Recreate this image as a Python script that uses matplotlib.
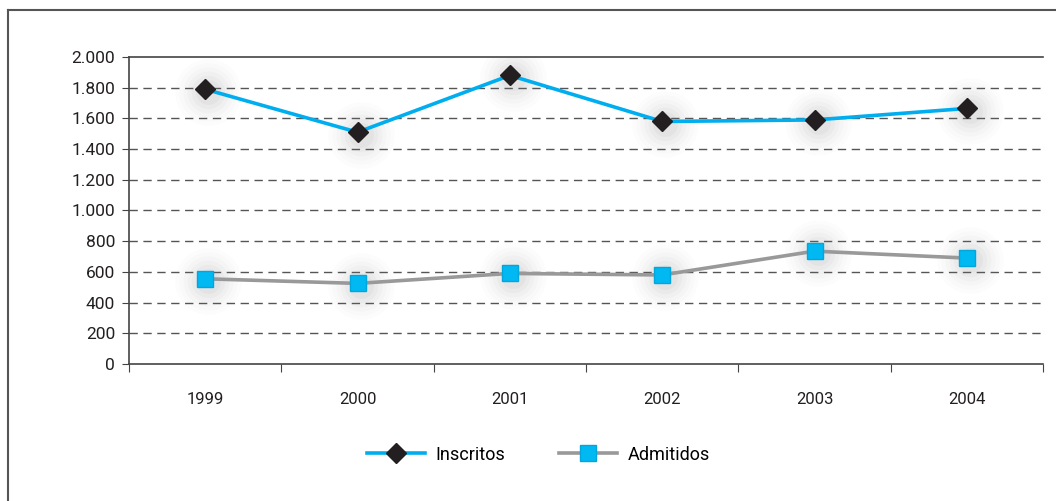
import matplotlib
matplotlib.use('Agg')
import matplotlib.pyplot as plt
from matplotlib.lines import Line2D
from matplotlib.ticker import FuncFormatter

years = ['1999', '2000', '2001', '2002', '2003', '2004']
inscritos = [1790, 1510, 1880, 1580, 1590, 1665]
admitidos = [555, 525, 590, 580, 735, 690]

plt.rcParams['font.family'] = ['Roboto', 'DejaVu Sans']

fig = plt.figure(figsize=(10.56, 5.01), dpi=100)
ax = fig.add_axes([0.1222, 0.2735, 0.8655, 0.6127])

x = [i + 0.5 for i in range(len(years))]

# sombras suaves detras de los marcadores (un poco desplazadas)
for s, a in [(48, 0.02), (42, 0.025), (36, 0.03), (30, 0.04), (24, 0.05), (18, 0.06)]:
    ax.plot([v + 0.02 for v in x], [v - 15 for v in inscritos], 'o', ms=s,
            color='#808080', alpha=a, mec='none', zorder=1)
    ax.plot([v + 0.02 for v in x], [v - 15 for v in admitidos], 'o', ms=s,
            color='#808080', alpha=a, mec='none', zorder=1)

ax.plot(x, inscritos, color='#00aeef', lw=2.6, marker='D', ms=10,
        mfc='#231f20', mec='#231f20', label='Inscritos', zorder=3)
ax.plot(x, admitidos, color='#999999', lw=2.6, marker='s', ms=11,
        mfc='#00b9f2', mec='#00a6dc', label='Admitidos', zorder=3)

ax.set_xlim(0, 6)
ax.set_ylim(0, 2000)
ax.set_yticks(range(0, 2001, 200))
ax.yaxis.set_major_formatter(FuncFormatter(lambda v, p: f'{int(v):,}'.replace(',', '.')))
ax.set_xticks(range(0, 7))
ax.set_xticklabels([])
ax.set_xticks(x, minor=True)
ax.set_xticklabels(years, minor=True)
ax.tick_params(axis='x', which='minor', length=0, pad=20, labelsize=12, colors='#231f20')
ax.tick_params(axis='x', which='major', length=6, direction='out', color='#444444')
ax.tick_params(axis='y', length=5, direction='out', color='#444444', labelsize=12.5,
               labelcolor='#231f20', pad=5)

for v in range(200, 2000, 200):
    ax.axhline(v, color='#555555', lw=1, ls=(0, (6, 4)), zorder=0)

for side in ['left', 'bottom', 'top']:
    ax.spines[side].set_color('#444444')
    ax.spines[side].set_linewidth(1.2)
ax.spines['right'].set_visible(False)

ax.legend(loc='center', bbox_to_anchor=(0.448, -0.295), ncol=2, frameon=False,
          fontsize=13, handlelength=3.2, columnspacing=3.0, handletextpad=0.6)

fig.add_artist(Line2D([8 / 1056, 8 / 1056], [0, 1 - 10 / 501], color='#555555', lw=1.5))
fig.add_artist(Line2D([8 / 1056, 1], [1 - 10 / 501, 1 - 10 / 501], color='#555555', lw=1.5))

fig.savefig('out.png', dpi=100)
